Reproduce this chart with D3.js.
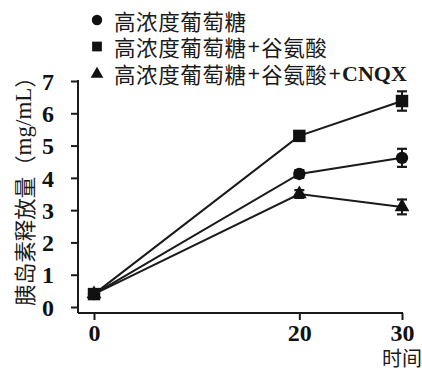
<!DOCTYPE html>
<html>
<head>
<meta charset="utf-8">
<script src="https://cdn.jsdelivr.net/npm/d3@7"></script>
<style>
  html, body { margin: 0; padding: 0; background: #fff; }
  svg { display: block; }
</style>
</head>
<body>
<svg id="chart" width="422" height="372"></svg>
<script>
// Insulin release over time under three treatments
const times = [0, 20, 30];
const xTicks = [0, 20, 30];
const yTicks = [0, 1, 2, 3, 4, 5, 6, 7];

const seriesNames = ["高浓度葡萄糖", "高浓度葡萄糖+谷氨酸", "高浓度葡萄糖+谷氨酸+CNQX"];
const glucose = [0.40, 4.12, 4.62];
const glucoseErr = [0.05, 0.12, 0.28];
const glutamate = [0.40, 5.30, 6.38];
const glutamateErr = [0.05, 0.12, 0.30];
const cnqx = [0.40, 3.50, 3.10];
const cnqxErr = [0.05, 0.12, 0.23];

const yLabel = ["胰岛素释放量（", "mg/mL", "）"];
const xLabel = "时间";

const cjk = "'Noto Sans CJK SC', sans-serif";
const serif = "'Liberation Serif', 'Times New Roman', serif";

const series = [
  { name: seriesNames[0], values: glucose, errs: glucoseErr, shape: d3.symbolCircle, size: 120, legendSize: 85 },
  { name: seriesNames[1], values: glutamate, errs: glutamateErr, shape: d3.symbolSquare, size: 155, legendSize: 95 },
  { name: seriesNames[2], values: cnqx, errs: cnqxErr, shape: d3.symbolTriangle, size: 95, legendSize: 70 }
];

const svg = d3.select("#chart");

const x = d3.scaleLinear().domain([0, 30]).range([94, 402]);
const y = d3.scaleLinear().domain([0, 7]).range([307, 81]);

const axisColor = "#1a1a1a";

// Y axis (offset left of the first time point)
const yAxis = svg.append("g")
  .attr("transform", "translate(78,0)")
  .call(d3.axisLeft(y).tickValues(yTicks).tickSize(7).tickPadding(17).tickFormat(d3.format("d")));
yAxis.select(".domain").remove();
yAxis.append("line")
  .attr("x1", 0).attr("x2", 0)
  .attr("y1", y(7) - 1).attr("y2", 313)
  .attr("stroke", axisColor).attr("stroke-width", 2);
yAxis.selectAll(".tick line").attr("stroke", axisColor).attr("stroke-width", 2);
yAxis.selectAll(".tick text")
  .attr("fill", "#111")
  .style("font-family", serif).style("font-weight", "bold").style("font-size", "24px")
  .attr("dy", "0.34em");

// X axis (sits slightly below the zero line)
const xAxis = svg.append("g")
  .attr("transform", "translate(0,313)")
  .call(d3.axisBottom(x).tickValues(xTicks).tickSize(7).tickPadding(4).tickFormat(d3.format("d")));
xAxis.select(".domain").remove();
xAxis.append("line")
  .attr("x1", 78).attr("x2", x(30) + 1)
  .attr("y1", 0).attr("y2", 0)
  .attr("stroke", axisColor).attr("stroke-width", 2);
xAxis.selectAll(".tick line").attr("stroke", axisColor).attr("stroke-width", 2);
xAxis.selectAll(".tick text")
  .attr("fill", "#111")
  .style("font-family", serif).style("font-weight", "bold").style("font-size", "24px");

// Axis titles
svg.append("text")
  .attr("x", x(30)).attr("y", 357)
  .attr("text-anchor", "middle").attr("dominant-baseline", "central")
  .style("font-family", cjk).style("font-size", "20px").attr("fill", axisColor)
  .text(xLabel);

const yTitle = svg.append("text")
  .attr("transform", "translate(23,186) rotate(-90)")
  .attr("text-anchor", "middle").attr("dominant-baseline", "central")
  .attr("fill", axisColor).style("font-size", "21.5px");
yTitle.append("tspan").style("font-family", cjk).text(yLabel[0]);
yTitle.append("tspan").style("font-family", serif).style("font-size", "23px").text(yLabel[1]);
yTitle.append("tspan").style("font-family", cjk).text(yLabel[2]);

// Series lines, error bars and markers
const line = d3.line().x(d => x(d[0])).y(d => y(d[1]));
const plot = svg.append("g");

series.forEach(s => {
  const pts = times.map((t, i) => [t, s.values[i], s.errs[i]]);
  plot.append("path")
    .datum(pts)
    .attr("d", line)
    .attr("fill", "none").attr("stroke", axisColor).attr("stroke-width", 2);

  const eb = plot.append("g");
  pts.forEach(p => {
    const cx = x(p[0]);
    eb.append("line").attr("x1", cx).attr("x2", cx)
      .attr("y1", y(p[1] - p[2])).attr("y2", y(p[1] + p[2]))
      .attr("stroke", axisColor).attr("stroke-width", 2);
    [p[1] - p[2], p[1] + p[2]].forEach(v => {
      eb.append("line").attr("x1", cx - 5).attr("x2", cx + 5)
        .attr("y1", y(v)).attr("y2", y(v))
        .attr("stroke", axisColor).attr("stroke-width", 2.2);
    });
  });

  plot.selectAll(null)
    .data(pts)
    .enter().append("path")
    .attr("transform", d => `translate(${x(d[0])},${y(d[1])})`)
    .attr("d", d3.symbol().type(s.shape).size(s.size))
    .attr("fill", "#111");
});

// Legend: Chinese runs in a CJK face, "+" and CNQX in bold serif,
// laid out piece by piece along each row
const legend = svg.append("g");
series.forEach((s, i) => {
  const ly = 20 + i * 26.5;
  legend.append("path")
    .attr("transform", `translate(97,${ly + (s.shape === d3.symbolTriangle ? 1 : 0)})`)
    .attr("d", d3.symbol().type(s.shape).size(s.legendSize))
    .attr("fill", "#111");
  let cursor = 114;
  s.name.split(/(\+|CNQX)/).filter(p => p.length).forEach(part => {
    const latin = /^[+A-Z]+$/.test(part);
    const piece = legend.append("text")
      .attr("x", cursor).attr("y", ly)
      .attr("dominant-baseline", "central")
      .attr("fill", axisColor)
      .style("font-family", latin ? serif : cjk)
      .style("font-weight", latin ? "bold" : "normal")
      .style("font-size", latin ? "22px" : "21.5px")
      .style("letter-spacing", latin ? "0px" : "0.6px")
      .text(part);
    cursor += piece.node().getComputedTextLength() + 1;
  });
});
</script>
</body>
</html>
